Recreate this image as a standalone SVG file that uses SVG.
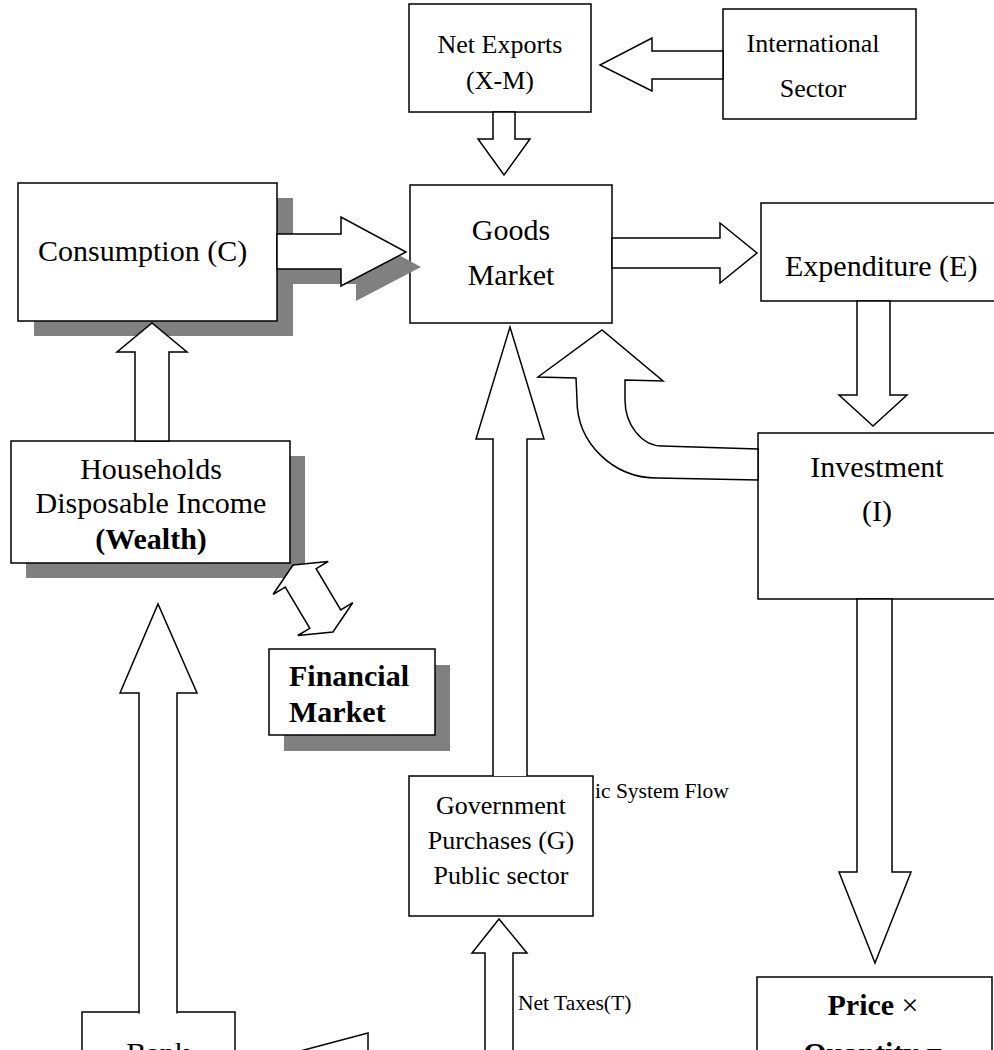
<svg xmlns="http://www.w3.org/2000/svg" width="994" height="1050" viewBox="0 0 994 1050">
<style>
.box{fill:#fff;stroke:#000;stroke-width:1.5}
.sh{fill:#808080;stroke:none}
.arr{fill:#fff;stroke:#000;stroke-width:1.5;stroke-linejoin:miter}
.t{font-family:"Liberation Serif","Times New Roman",serif;font-size:30px;fill:#000}
.m{font-size:26px}
.s{font-size:21.5px}
.b{font-weight:bold}
.c{text-anchor:middle}
</style>
<rect width="994" height="1050" fill="#fff"/>
<g id="node-netexports">
<rect class="box" x="409" y="4" width="182" height="108"/>
<text class="t m c" x="500" y="53">Net Exports</text>
<text class="t m c" x="500" y="89">(X-M)</text>
</g>
<g id="node-international">
<rect class="box" x="723" y="9" width="193" height="110"/>
<text class="t m c" x="813" y="52">International</text>
<text class="t m c" x="813" y="97">Sector</text>
</g>
<g id="node-goods">
<rect class="box" x="410" y="185" width="202" height="138"/>
<text class="t c" x="511" y="240">Goods</text>
<text class="t c" x="511" y="285">Market</text>
</g>
<g id="node-consumption">
<rect class="sh" x="34" y="198" width="259" height="138"/>
<rect class="box" x="18" y="183" width="259" height="138"/>
<text class="t" x="38" y="261">Consumption (C)</text>
</g>
<g id="node-expenditure">
<rect class="box" x="761" y="203" width="250" height="98"/>
<text class="t" x="785" y="276">Expenditure (E)</text>
</g>
<g id="node-investment">
<rect class="box" x="758" y="433" width="250" height="166"/>
<text class="t c" x="877" y="477">Investment</text>
<text class="t c" x="877" y="521">(I)</text>
</g>
<g id="node-households">
<rect class="sh" x="26" y="456" width="279" height="122"/>
<rect class="box" x="11" y="441" width="279" height="122"/>
<text class="t c" x="151" y="479">Households</text>
<text class="t c" x="151" y="513">Disposable Income</text>
<text class="t c b" x="151" y="549">(Wealth)</text>
</g>
<g id="node-financial">
<rect class="sh" x="284" y="665" width="166" height="86"/>
<rect class="box" x="269" y="649" width="166" height="86"/>
<text class="t b" x="289" y="686">Financial</text>
<text class="t b" x="289" y="722">Market</text>
</g>
<g id="node-government">
<rect class="box" x="409" y="776" width="184" height="140"/>
<text class="t m c" x="501" y="814">Government</text>
<text class="t m c" x="501" y="849">Purchases (G)</text>
<text class="t m c" x="501" y="884">Public sector</text>
</g>
<g id="node-price">
<rect class="box" x="757" y="977" width="235" height="100"/>
<text class="t c" x="873" y="1015"><tspan class="b">Price</tspan> ×</text>
<text class="t c b" x="873" y="1063">Quantity =</text>
</g>
<g id="node-bank">
<rect class="box" x="82" y="1012" width="153" height="70"/>
<text class="t c" x="158" y="1063">Bank</text>
</g>
<g id="connectors">
<polygon class="sh" transform="translate(15,15)" points="277,234 341,234 341,217 406,252 341,286 341,269 277,269"/>
<polygon class="arr" points="723,51 652,51 652,38 600,65 652,91 652,79 723,79"/>
<polygon class="arr" points="493,112 515,112 515,139 530,139 504,175 478,139 493,139"/>
<polygon class="arr" points="277,234 341,234 341,217 406,252 341,286 341,269 277,269"/>
<polygon class="arr" points="612,238 720,238 720,223 757,253 720,283 720,268 612,268"/>
<polygon class="arr" points="857,301 890,301 890,395 907,395 873,426 839,395 857,395"/>
<path class="arr" d="M758 449 L662 446 C642 446 625 425 625 400 L625 380 L663 381 L602 330 L538 377 L576 378 L577 400 C577 443 613 478 657 478 L758 480 Z"/>
<polygon class="arr" points="857,599 892,599 892,872 911,872 875,963 839,872 857,872"/>
<polygon class="arr" points="135,441 169,441 169,352 187,352 152,323 117,352 135,352"/>
<path class="arr" d="M139 1013.5 L139 693 L120 693 L158 604 L197 693 L177 693 L177 1013.5"/>
<path class="arr" d="M493 776 L493 439 L476 439 L510 327 L544 439 L527 439 L527 776"/>
<path class="arr" d="M485 1060 L485 953 L472 953 L499 919 L527 953 L513 953 L513 1060"/>
<path class="arr" d="M368 1062 L368 1033 L240 1067"/>
<polygon class="arr" transform="translate(293,565) rotate(59.2)" points="0,0 15,-32 15,-18 63,-18 63,-32 78,0 63,32 63,18 15,18 15,32"/>
<text class="t s" x="518" y="1010">Net Taxes(T)</text>
<text class="t s" x="595" y="798">ic System Flow</text>
</g>
</svg>
